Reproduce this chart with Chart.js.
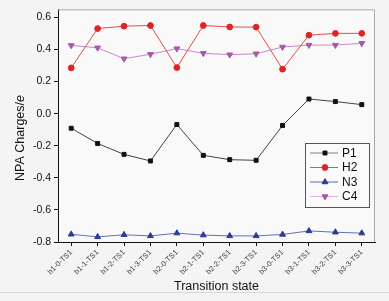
<!DOCTYPE html>
<html>
<head>
<meta charset="utf-8">
<script src="https://cdn.jsdelivr.net/npm/chart.js@4"></script>
<style>
  html, body { margin: 0; padding: 0; background: #f4f4f4; }
  #wrap { width: 389px; height: 301px; position: relative; }
</style>
</head>
<body>
<div id="wrap"><canvas id="npa-chart" width="389" height="301"></canvas></div>
<script>
var states = ["b1-0-TS1", "b1-1-TS1", "b1-2-TS1", "b1-3-TS1", "b2-0-TS1", "b2-1-TS1",
              "b2-2-TS1", "b2-3-TS1", "b3-0-TS1", "b3-1-TS1", "b3-2-TS1", "b3-3-TS1"];
var p1 = [-0.091, -0.186, -0.254, -0.295, -0.068, -0.260, -0.287, -0.291, -0.074, 0.091, 0.075, 0.056];
var h2 = [0.285, 0.530, 0.545, 0.549, 0.287, 0.549, 0.540, 0.539, 0.277, 0.489, 0.500, 0.500];
var n3 = [-0.752, -0.768, -0.755, -0.762, -0.745, -0.757, -0.762, -0.762, -0.753, -0.731, -0.739, -0.745];
var c4 = [0.425, 0.410, 0.342, 0.370, 0.405, 0.376, 0.367, 0.373, 0.415, 0.427, 0.427, 0.438];
var yTicks = [-0.8, -0.6, -0.4, -0.2, 0.0, 0.2, 0.4, 0.6];

var fontName = "'Liberation Sans', Arial, sans-serif";

// frame, y title with italic e, and the boxed legend inside the plot
var extras = {
    id: 'extras',
    beforeDraw: function (chart) {
        var ctx = chart.ctx, a = chart.chartArea;
        ctx.save();
        ctx.fillStyle = '#f9f9f9';
        ctx.fillRect(a.left, a.top, a.right - a.left, a.bottom - a.top);
        ctx.strokeStyle = '#d8d8d8';
        ctx.lineWidth = 1;
        ctx.beginPath();
        ctx.moveTo(0, 292.5);
        ctx.lineTo(389, 292.5);
        ctx.stroke();
        ctx.restore();
    },
    afterDraw: function (chart) {
        var ctx = chart.ctx, a = chart.chartArea;
        ctx.save();
        ctx.strokeStyle = '#a8a8a8';
        ctx.lineWidth = 1;
        ctx.beginPath();
        ctx.moveTo(a.left, a.top + 0.5);
        ctx.lineTo(a.right - 0.5, a.top + 0.5);
        ctx.lineTo(a.right - 0.5, a.bottom);
        ctx.stroke();

        // y title
        ctx.translate(21, 138);
        ctx.rotate(-Math.PI / 2);
        ctx.fillStyle = '#111';
        ctx.textBaseline = 'middle';
        var t1 = 'NPA Charges/';
        ctx.font = 'italic 12.5px ' + fontName;
        var we = ctx.measureText('e').width;
        ctx.font = '12.5px ' + fontName;
        var w1 = ctx.measureText(t1).width;
        var x0 = -(w1 + we) / 2;
        ctx.textAlign = 'left';
        ctx.fillText(t1, x0, 0);
        ctx.font = 'italic 12.5px ' + fontName;
        ctx.fillText('e', x0 + w1, 0);
        ctx.restore();

        // legend
        ctx.save();
        var bx = 305.5, by = 143.5, bw = 64, bh = 64;
        ctx.fillStyle = '#fafafa';
        ctx.fillRect(bx, by, bw, bh);
        ctx.strokeStyle = '#555';
        ctx.lineWidth = 1;
        ctx.strokeRect(bx, by, bw, bh);
        chart.data.datasets.forEach(function (ds, i) {
            var y = 153 + i * 14.5;
            ctx.strokeStyle = ds.legendLine;
            ctx.lineWidth = 1;
            ctx.beginPath();
            ctx.moveTo(310, y);
            ctx.lineTo(338, y);
            ctx.stroke();
            ctx.fillStyle = ds.pointBackgroundColor;
            ctx.strokeStyle = ds.pointBorderColor;
            Chart.helpers.drawPoint(ctx, {
                pointStyle: ds.pointStyle,
                radius: ds.pointRadius,
                rotation: ds.pointRotation || 0,
                borderWidth: 1
            }, 325, y);
            ctx.fillStyle = '#111';
            ctx.font = '12px ' + fontName;
            ctx.textBaseline = 'middle';
            ctx.textAlign = 'left';
            ctx.fillText(ds.label, 342, y + 0.5);
        });
        ctx.restore();
    }
};

function series(label, data, line, fill, style, radius, rot, legendLine) {
    return {
        label: label,
        data: data,
        borderColor: line,
        borderWidth: 1,
        pointStyle: style,
        pointRadius: radius,
        pointRotation: rot,
        pointBackgroundColor: fill,
        pointBorderColor: fill,
        pointBorderWidth: 1,
        legendLine: legendLine,
        tension: 0
    };
}

new Chart(document.getElementById('npa-chart'), {
    type: 'line',
    data: {
        labels: states,
        datasets: [
            series('P1', p1, '#444444', '#111111', 'rect', 2.8, 0, '#808080'),
            series('H2', h2, '#ea4a4a', '#e02424', 'circle', 2.9, 0, '#e85050'),
            series('N3', n3, '#6070bc', '#2a3c96', 'triangle', 3.4, 0, '#5568b8'),
            series('C4', c4, '#c88ac8', '#a858a8', 'triangle', 3.4, 180, '#e0b0e0')
        ]
    },
    options: {
        responsive: false,
        animation: false,
        devicePixelRatio: 1,
        layout: { padding: { left: 0, right: 14, top: 8, bottom: 0 } },
        plugins: { legend: { display: false }, tooltip: { enabled: false } },
        scales: {
            x: {
                type: 'category',
                offset: true,
                grid: { display: true, drawOnChartArea: false, offset: false, color: '#111', tickLength: 4 },
                border: { color: '#111', width: 1 },
                ticks: {
                    minRotation: 45, maxRotation: 45, autoSkip: false,
                    color: '#444', padding: 2,
                    font: { family: fontName, size: 7.5 }
                },
                title: {
                    display: true, text: 'Transition state', color: '#111',
                    font: { family: fontName, size: 12.5 }, padding: { top: 0, bottom: 7 }
                },
                afterFit: function (s) { s.height = 59; }
            },
            y: {
                min: -0.8,
                max: 0.65,
                grid: { display: true, drawOnChartArea: false, color: '#111', tickLength: 4 },
                border: { color: '#111', width: 1 },
                afterBuildTicks: function (s) {
                    s.ticks = yTicks.map(function (v) { return { value: v }; });
                },
                ticks: {
                    color: '#111', padding: 3, autoSkip: false,
                    font: { family: fontName, size: 10.5 },
                    callback: function (v) { return Number(v).toFixed(1); }
                },
                afterFit: function (s) { s.width = 58; }
            }
        }
    },
    plugins: [extras]
});
</script>
</body>
</html>
